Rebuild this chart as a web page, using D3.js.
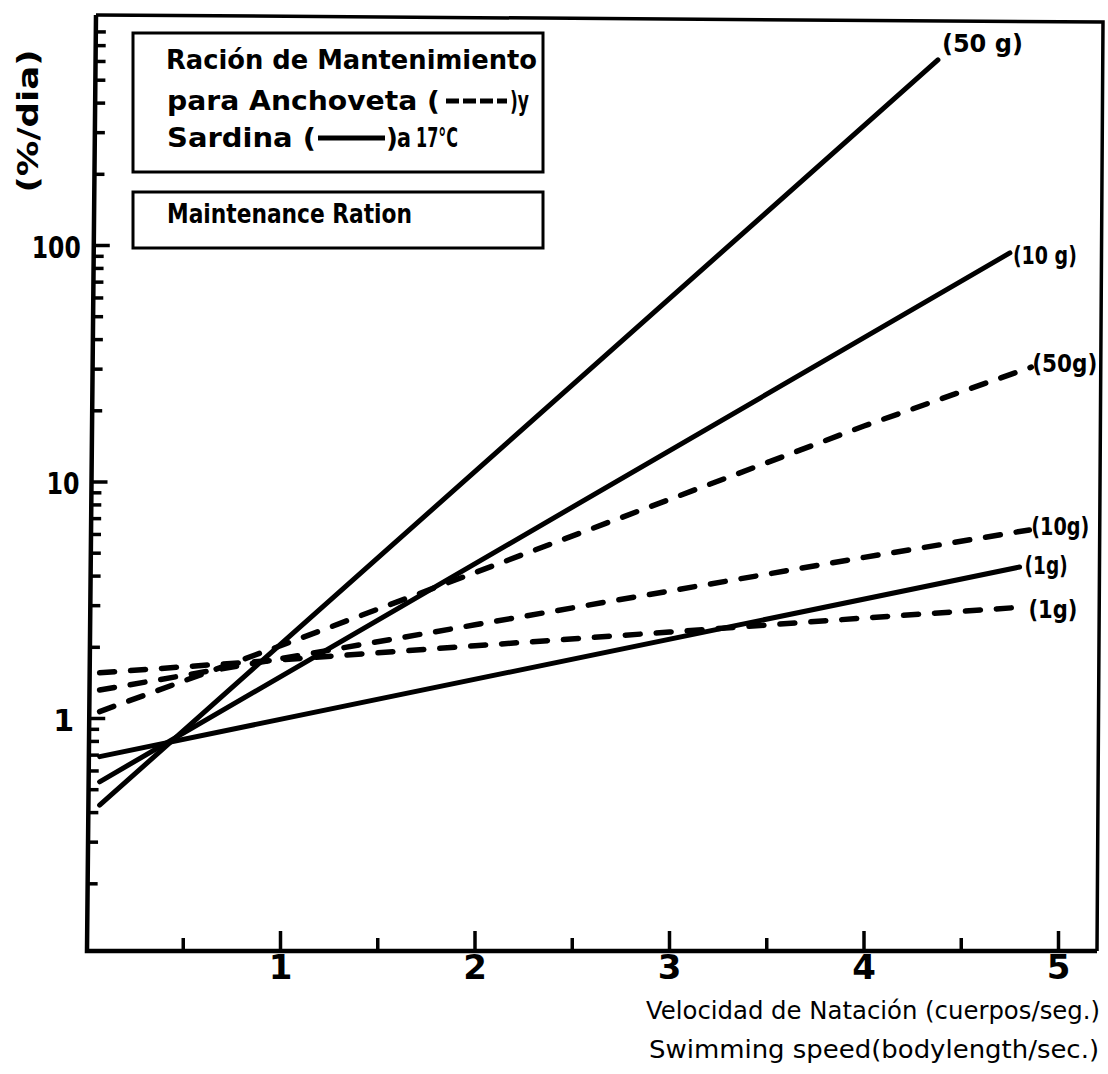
<!DOCTYPE html>
<html><head><meta charset="utf-8">
<script src="https://cdn.jsdelivr.net/npm/d3@7"></script>
<style>body{margin:0;background:#fff}svg{display:block}</style>
</head><body>
<svg id="c" width="1108" height="1074"></svg>
<script>
// ---------- data ----------
const speedTicks = [0.5, 1, 1.5, 2, 2.5, 3, 3.5, 4, 4.5, 5];
const speedTickLabels = ["1", "2", "3", "4", "5"];
const rationTickValues = [1, 10, 100];
const rationTickLabels = ["1", "10", "100"];
const rationDecades = [0.1, 1, 10, 100];

// Sardina (solid)
const sardina1gSpeed = [0.07, 4.80];
const sardina1gRation = [0.69, 4.37];
const sardina10gSpeed = [0.07, 4.75];
const sardina10gRation = [0.54, 93];
const sardina50gSpeed = [0.07, 4.38];
const sardina50gRation = [0.43, 609];
// Anchoveta (dashed)
const anchoveta1gSpeed = [0.07, 1, 2, 3, 4, 4.82];
const anchoveta1gRation = [1.56, 1.77, 2.03, 2.32, 2.66, 2.96];
const anchoveta10gSpeed = [0.07, 1, 2, 3, 4, 4.85];
const anchoveta10gRation = [1.32, 1.79, 2.49, 3.46, 4.80, 6.27];
const anchoveta50gSpeed = [0.07, 1, 2, 3, 4, 4.86];
const anchoveta50gRation = [1.07, 2.03, 4.14, 8.44, 17.25, 30.6];

const seriesKeys = ["s1", "s10", "s50", "a1", "a10", "a50"];
const seriesLabels = ["(1g)", "(10 g)", "(50 g)", "(1g)", "(10g)", "(50g)"];

// ---------- layout / style ----------
const labelLayout = {
  s1: {dx: 5, dy: 7, len: 43}, s10: {dx: 3, dy: 11, len: 64}, s50: {dx: 4, dy: -8, len: 81},
  a1: {dx: 5, dy: 11, len: 49}, a10: {dx: 2, dy: 5, len: 58}, a50: {dx: 1, dy: 5, len: 65}
};
const FONT = "'DejaVu Sans', sans-serif";

const series = [
  {key: "s1", dashed: false, sp: sardina1gSpeed, r: sardina1gRation},
  {key: "s10", dashed: false, sp: sardina10gSpeed, r: sardina10gRation},
  {key: "s50", dashed: false, sp: sardina50gSpeed, r: sardina50gRation},
  {key: "a1", dashed: true, sp: anchoveta1gSpeed, r: anchoveta1gRation},
  {key: "a10", dashed: true, sp: anchoveta10gSpeed, r: anchoveta10gRation},
  {key: "a50", dashed: true, sp: anchoveta50gSpeed, r: anchoveta50gRation}
].map((s) => ({...s, label: seriesLabels[seriesKeys.indexOf(s.key)],
  pts: s.sp.map((v, i) => [v, s.r[i]])}));

const svg = d3.select("#c");
const x = d3.scaleLinear().domain([0, 5]).range([86, 1058.5]);
const y = d3.scaleLog().domain([1, 100]).range([718.5, 245.5]);

// frame corners (hand-drawn, slightly skewed)
const BL = [87, 951], TL = [96, 15], TR = [1103, 22], BR = [1097, 951];
const axX = (py) => BL[0] + (BL[1] - py) * ((TL[0] - BL[0]) / (BL[1] - TL[1]));

const g = svg.append("g");
g.append("path")
  .attr("d", `M${TL}L${TR}L${BR}`)
  .attr("fill", "none").attr("stroke", "#000").attr("stroke-width", 3.5);
g.append("path")
  .attr("d", `M${TL}L${BL}L${BR}`)
  .attr("fill", "none").attr("stroke", "#000").attr("stroke-width", 4.5);

// y ticks (log minor ticks)
const yTicks = [];
rationDecades.forEach((d) => {
  for (let k = 1; k <= 9; k++) {
    const v = d * k, py = y(v);
    if (py < 25 || py > 940) continue;
    yTicks.push({v, major: k === 1, py});
  }
});
g.selectAll(".yt").data(yTicks).join("line")
  .attr("x1", (d) => axX(d.py)).attr("x2", (d) => axX(d.py) + (d.major ? 16 : 10))
  .attr("y1", (d) => d.py).attr("y2", (d) => d.py)
  .attr("stroke", "#000").attr("stroke-width", 3.5);

const yLabelStyle = {"1": {off: 15, len: null}, "10": {off: 12, len: 33}, "100": {off: 13, len: 49}};
g.selectAll(".yl").data(rationTickValues).join("text")
  .attr("x", (d, i) => axX(y(d)) - yLabelStyle[rationTickLabels[i]].off)
  .attr("y", (d) => y(d) + 12)
  .attr("text-anchor", "end")
  .attr("font-family", FONT).attr("font-weight", "bold").attr("font-size", 30)
  .attr("textLength", (d, i) => yLabelStyle[rationTickLabels[i]].len)
  .attr("lengthAdjust", "spacingAndGlyphs")
  .text((d, i) => rationTickLabels[i]);

// x ticks
g.selectAll(".xt").data(speedTicks).join("line")
  .attr("x1", (d) => x(d)).attr("x2", (d) => x(d))
  .attr("y1", BL[1]).attr("y2", (d) => BL[1] - (Number.isInteger(d) ? 20 : 13))
  .attr("stroke", "#000").attr("stroke-width", 3.5);
g.selectAll(".xl").data(speedTicks.filter(Number.isInteger)).join("text")
  .attr("x", (d) => x(d)).attr("y", 979)
  .attr("text-anchor", "middle")
  .attr("font-family", FONT).attr("font-weight", "bold").attr("font-size", 34)
  .text((d, i) => speedTickLabels[i]);

// series lines
const line = d3.line().x((d) => x(d[0])).y((d) => y(d[1]));
g.selectAll(".ser").data(series).join("path")
  .attr("d", (d) => line(d.pts))
  .attr("fill", "none").attr("stroke", "#000")
  .attr("stroke-width", (d) => d.dashed ? 5.5 : 5)
  .attr("stroke-linecap", "round")
  .attr("stroke-dasharray", (d) => d.dashed ? "15,16" : null);

// series labels
g.selectAll(".sl").data(series).join("text")
  .attr("x", (d) => x(d.pts[d.pts.length - 1][0]) + labelLayout[d.key].dx)
  .attr("y", (d) => y(d.pts[d.pts.length - 1][1]) + labelLayout[d.key].dy)
  .attr("font-family", FONT).attr("font-weight", "bold").attr("font-size", 24)
  .attr("textLength", (d) => labelLayout[d.key].len)
  .attr("lengthAdjust", "spacingAndGlyphs")
  .text((d) => d.label);

// legend boxes
const leg = svg.append("g");
leg.append("rect").attr("x", 133).attr("y", 33).attr("width", 410).attr("height", 139)
  .attr("fill", "#fff").attr("stroke", "#000").attr("stroke-width", 3);
leg.append("rect").attr("x", 133).attr("y", 192).attr("width", 410).attr("height", 56)
  .attr("fill", "#fff").attr("stroke", "#000").attr("stroke-width", 3);

const legendTexts = [
  {t: "Ración de Mantenimiento", x: 166, y: 69, len: 371},
  {t: "para Anchoveta (", x: 167, y: 110, len: 273},
  {t: ")y", x: 510, y: 110, len: 19},
  {t: "Sardina (", x: 167, y: 147, len: 149},
  {t: ")", x: 386, y: 147, len: null},
  {t: "a", x: 397, y: 147, len: 14},
  {t: "17°C", x: 416, y: 147, len: 42},
  {t: "Maintenance Ration", x: 167, y: 223, len: 245}
];
leg.selectAll(".lt").data(legendTexts).join("text")
  .attr("x", (d) => d.x).attr("y", (d) => d.y)
  .attr("font-family", FONT).attr("font-weight", "bold").attr("font-size", 26)
  .attr("textLength", (d) => d.len).attr("lengthAdjust", "spacingAndGlyphs")
  .text((d) => d.t);
leg.append("line").attr("x1", 446).attr("x2", 507).attr("y1", 101).attr("y2", 101)
  .attr("stroke", "#000").attr("stroke-width", 5).attr("stroke-dasharray", "13,4");
leg.append("line").attr("x1", 318).attr("x2", 385).attr("y1", 138).attr("y2", 138)
  .attr("stroke", "#000").attr("stroke-width", 5);

// axis titles
svg.append("text")
  .attr("transform", "translate(38,121) rotate(-90)")
  .attr("text-anchor", "middle")
  .attr("font-family", FONT).attr("font-weight", "bold").attr("font-size", 28)
  .attr("textLength", 143).attr("lengthAdjust", "spacingAndGlyphs")
  .text("(%/dia)");
svg.append("text").attr("x", 646).attr("y", 1019)
  .attr("font-family", FONT).attr("font-size", 24)
  .attr("textLength", 454).attr("lengthAdjust", "spacingAndGlyphs")
  .text("Velocidad de Natación (cuerpos/seg.)");
svg.append("text").attr("x", 649).attr("y", 1058)
  .attr("font-family", FONT).attr("font-size", 24)
  .attr("textLength", 450).attr("lengthAdjust", "spacingAndGlyphs")
  .text("Swimming speed(bodylength/sec.)");
</script>
</body></html>
